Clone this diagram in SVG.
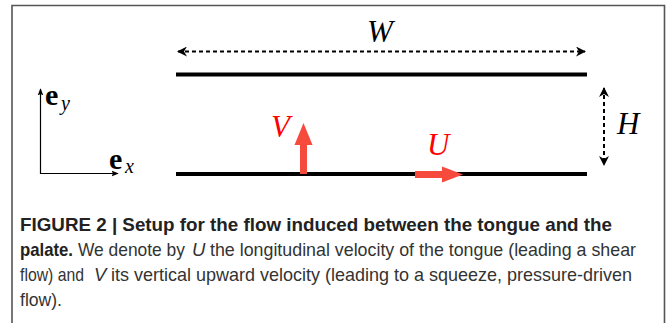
<svg xmlns="http://www.w3.org/2000/svg" width="667" height="323" viewBox="0 0 667 323">
<style>
.plate{stroke:#000;stroke-width:4;fill:none}
.dim{stroke:#000;stroke-width:2;stroke-dasharray:4 3;fill:none}
.axis{stroke:#000;stroke-width:1.2;fill:none}
.math{font-family:"Liberation Serif","DejaVu Serif",serif;font-style:italic;font-size:31px}
.vec{font-family:"Liberation Serif","DejaVu Serif",serif;font-weight:bold;font-size:30px}
.sub{font-family:"Liberation Serif","DejaVu Serif",serif;font-style:italic;font-size:20px}
.red{fill:#ff0000}
.cap{font-family:"Liberation Sans Narrow","Liberation Sans",Arial,sans-serif;font-size:18.5px;fill:#333}
.capb{font-weight:bold;fill:#222}
.capi{font-style:italic}
</style>
<defs>
<marker id="ah" viewBox="0 0 10 10" refX="9" refY="5" markerWidth="5" markerHeight="5" orient="auto-start-reverse">
<path d="M0,0 L10,5 L0,10 L3,5 Z" fill="#000"/>
</marker>
<marker id="ax" viewBox="0 0 10 10" refX="9" refY="5" markerWidth="6" markerHeight="6" orient="auto">
<path d="M0,1 L10,5 L0,9 L2,5 Z" fill="#000"/>
</marker>
</defs>
<rect width="667" height="323" fill="#fff"/>
<path d="M12,323 V5.5 H664.5 V323" fill="none" stroke="#555" stroke-width="1.6"/>

<g id="palate"><line class="plate" x1="176" y1="74.5" x2="587" y2="74.5"/></g>
<g id="tongue"><line class="plate" x1="176" y1="174" x2="587" y2="174"/></g>

<g id="connectors">
<line class="dim" x1="178" y1="51.5" x2="585" y2="51.5" marker-start="url(#ah)" marker-end="url(#ah)"/>
<line class="dim" x1="604" y1="88" x2="604" y2="165" marker-start="url(#ah)" marker-end="url(#ah)"/>
<line class="axis" x1="40.5" y1="174" x2="40.5" y2="89" marker-end="url(#ax)"/>
<line class="axis" x1="40" y1="173.5" x2="118" y2="173.5" marker-end="url(#ax)"/>
</g>

<g id="label-W"><text class="math" x="367" y="41.5">W</text></g>
<g id="label-H"><text class="math" x="617" y="134">H</text></g>
<g id="label-ey"><text class="vec" x="45" y="105">e</text><text class="sub" x="61" y="110">y</text></g>
<g id="label-ex"><text class="vec" x="109" y="169">e</text><text class="sub" x="125" y="173">x</text></g>

<g id="arrow-V">
<path d="M300,174 V145 H294.5 L303.5,123 L312.5,145 H307 V174 Z" fill="#f64b3c"/>
<text class="math red" x="271" y="137">V</text>
</g>
<g id="arrow-U">
<path d="M415,171 H442 V166.5 L463,174.5 L442,182.5 V178 H415 Z" fill="#f64b3c"/>
<text class="math red" x="427" y="155">U</text>
</g>

<g id="caption">
<text class="cap capb" x="20" y="231" textLength="592" lengthAdjust="spacingAndGlyphs">FIGURE 2 | Setup for the flow induced between the tongue and the</text>
<text class="cap capb" x="20" y="256" textLength="53" lengthAdjust="spacingAndGlyphs">palate.</text>
<text class="cap" x="78" y="256" textLength="107" lengthAdjust="spacingAndGlyphs">We denote by</text>
<text class="cap capi" x="192" y="256">U</text>
<text class="cap" x="210" y="256" textLength="426" lengthAdjust="spacingAndGlyphs">the longitudinal velocity of the tongue (leading a shear</text>
<text class="cap" x="20" y="281" textLength="64" lengthAdjust="spacingAndGlyphs">flow) and</text>
<text class="cap capi" x="94" y="281">V</text>
<text class="cap" x="111" y="281" textLength="521" lengthAdjust="spacingAndGlyphs">its vertical upward velocity (leading to a squeeze, pressure-driven</text>
<text class="cap" x="20" y="306" textLength="42" lengthAdjust="spacingAndGlyphs">flow).</text>
</g>
</svg>
